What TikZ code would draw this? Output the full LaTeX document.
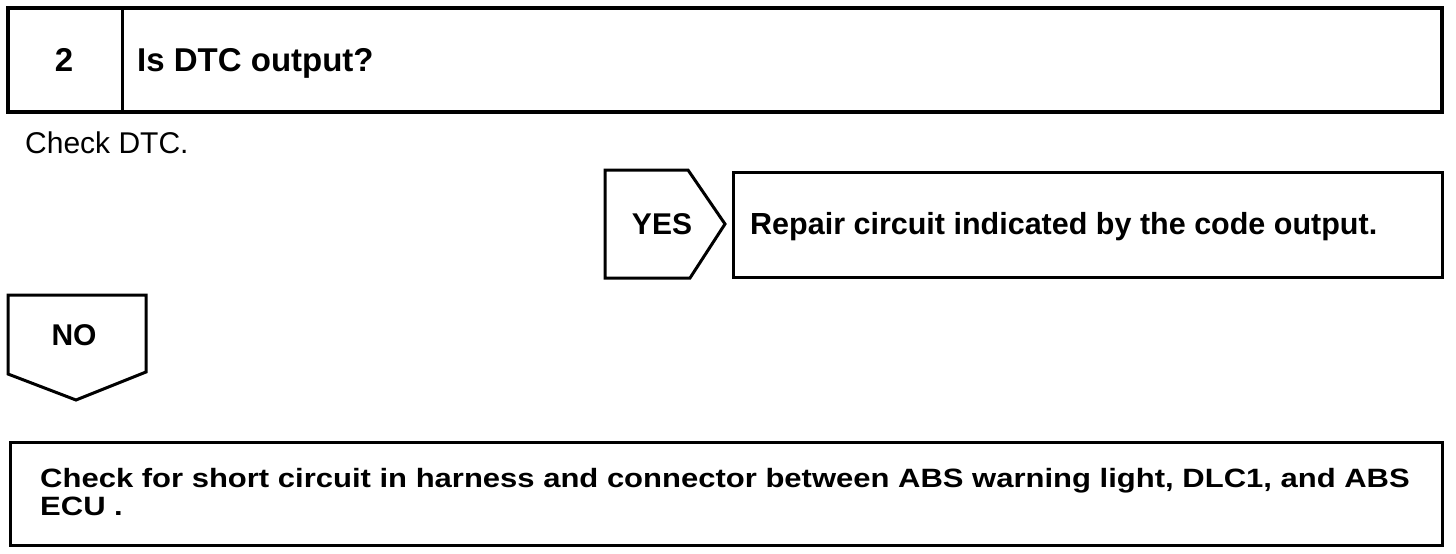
\documentclass[tikz,border=0pt]{standalone}
\usepackage{fontspec}
\setmainfont{Liberation Sans}
\newfontfamily\widebold[FakeStretch=1.17]{Liberation Sans Bold}
\begin{document}
\begin{tikzpicture}[x=1pt,y=-1pt,
  frame/.style={draw, line width=3pt, line join=miter},
  bt/.style={inner sep=0pt, font=\fontsize{30}{33}\selectfont\bfseries},
  rt/.style={inner sep=0pt, font=\fontsize{30}{33}\selectfont}]
\useasboundingbox[fill=white] (0,0) rectangle (1456,554);
% header
\draw[frame, line width=3.5pt] (8,8) rectangle (1442,112);
\draw[frame] (122,8) -- (122,112);
\node[bt, font=\fontsize{33}{36}\selectfont\bfseries, anchor=base] (num) at (64,71) {2};
\node[bt, font=\fontsize{33}{36}\selectfont\bfseries, anchor=base west] (title) at (137,71) {Is DTC output?};
\node[rt, anchor=base west] (check) at (25,153) {Check DTC.};
% YES
\draw[frame] (605,170) -- (688,170) -- (725,224) -- (690,278) -- (605,278) -- cycle;
\node[bt, anchor=base] (yes) at (662,234) {YES};
\draw[frame] (733,172) rectangle (1442,277);
\node[bt, font=\fontsize{30.5}{33}\selectfont\bfseries, anchor=base west] (repair) at (750,234) {Repair circuit indicated by the code output.};
% NO
\draw[frame] (8,295) -- (146,295) -- (146,372) -- (76,400) -- (8,374) -- cycle;
\node[bt, anchor=base] (no) at (74,345) {NO};
% bottom
\draw[frame] (10,442) rectangle (1442,545);
\node[bt, font=\fontsize{26.5}{28}\widebold, anchor=base west, align=left] (short) at (40,515) {Check for short circuit in harness and connector between ABS warning light, DLC1, and ABS\\ECU .};
\end{tikzpicture}
\end{document}
